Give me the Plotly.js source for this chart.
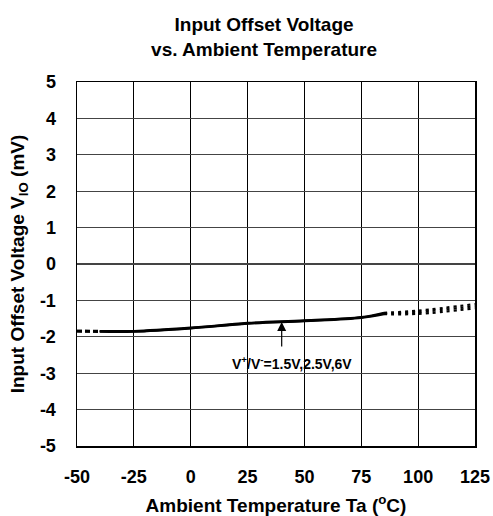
<!DOCTYPE html>
<html>
<head>
<meta charset="utf-8">
<script src="https://cdn.plot.ly/plotly-3.0.1.min.js"></script>
<style>html,body{margin:0;padding:0;background:#fff;}#chart{width:493px;height:516px;}</style>
</head>
<body>
<div id="chart"></div>
<script>
// Data
const temps = [-50, -40, -25, 0, 25, 50, 75, 85, 100, 125];
const vio_1_5V = [-1.84, -1.84, -1.84, -1.75, -1.62, -1.55, -1.46, -1.34, -1.28, -1.10];
const vio_2_5V = [-1.84, -1.85, -1.85, -1.76, -1.63, -1.56, -1.47, -1.36, -1.32, -1.16];
const vio_6V   = [-1.85, -1.86, -1.86, -1.77, -1.64, -1.57, -1.48, -1.38, -1.37, -1.22];
const xTicks = [-50, -25, 0, 25, 50, 75, 100, 125];
const yTicks = [5, 4, 3, 2, 1, 0, -1, -2, -3, -4, -5];
const measuredMin = -40, measuredMax = 85;
const annotationText = 'V<sup>+</sup>/V<sup>-</sup>=1.5V,2.5V,6V';

const FONT = 'Liberation Sans, Arial, sans-serif';
const series = [vio_1_5V, vio_2_5V, vio_6V];
const traces = [];
function pick(vals, cond) {
  const xs = [], ys = [];
  temps.forEach((t, i) => { if (cond(t)) { xs.push(t); ys.push(vals[i]); } });
  return {xs, ys};
}
series.forEach(vals => {
  const s = pick(vals, t => t >= measuredMin && t <= measuredMax);
  const l = pick(vals, t => t <= measuredMin);
  const r = pick(vals, t => t >= measuredMax);
  traces.push({x: s.xs, y: s.ys, mode: 'lines', line: {color: '#000', width: 2.2, shape: 'spline'}, hoverinfo: 'skip'});
  traces.push({x: l.xs, y: l.ys, mode: 'lines', line: {color: '#000', width: 2.5, dash: '5px,3px'}, hoverinfo: 'skip'});
  traces.push({x: r.xs, y: r.ys, mode: 'lines', line: {color: '#000', width: 2.2, dash: '3px,4px', shape: 'spline'}, hoverinfo: 'skip'});
});

const layout = {
  width: 493, height: 516,
  margin: {l: 77, r: 18, t: 82, b: 70},
  paper_bgcolor: '#fff', plot_bgcolor: '#fff',
  showlegend: false,
  font: {family: FONT, color: '#000'},
  title: {
    text: '<b>Input Offset Voltage<br>vs. Ambient Temperature</b>',
    font: {family: FONT, size: 19, color: '#000'},
    x: 0.47, xref: 'paper', xanchor: 'center',
    y: 1 - 31/516, yref: 'container', yanchor: 'top'
  },
  xaxis: {
    range: [-50, 125], tickvals: xTicks, ticktext: xTicks.map(String),
    showgrid: true, gridcolor: '#000', gridwidth: 1,
    zeroline: false, showline: true, linecolor: '#000', linewidth: 1.5, mirror: true,
    ticks: '', ticklabelstandoff: 14,
    tickfont: {family: FONT, size: 18, color: '#000', weight: 'bold'},
    title: {text: '<b>Ambient Temperature Ta (<sup>o</sup>C)</b>', font: {family: FONT, size: 19, color: '#000'}, standoff: 12}
  },
  yaxis: {
    range: [-5, 5], tickvals: yTicks, ticktext: yTicks.map(String),
    showgrid: true, gridcolor: '#444', gridwidth: 1.3,
    zeroline: false, showline: true, linecolor: '#000', linewidth: 1.5, mirror: true,
    ticks: '', ticklabelstandoff: 16,
    tickfont: {family: FONT, size: 18, color: '#000', weight: 'bold'},
    title: {text: '<b>Input Offset Voltage V<sub>IO</sub> (mV)</b>', font: {family: FONT, size: 19, color: '#000'}, standoff: 10}
  },
  annotations: [
    {x: 40, y: -1.59, xref: 'x', yref: 'y', text: '', showarrow: true,
     arrowhead: 2, arrowsize: 1.5, arrowwidth: 1.2, arrowcolor: '#000', ax: 0, ay: 26},
    {x: 44.5, y: -2.71, xref: 'x', yref: 'y', text: '<b>' + annotationText + '</b>', showarrow: false,
     font: {family: FONT, size: 14, color: '#000'}, xanchor: 'center', yanchor: 'middle'}
  ]
};

Plotly.newPlot('chart', traces, layout, {staticPlot: true, displayModeBar: false});
</script>
</body>
</html>
